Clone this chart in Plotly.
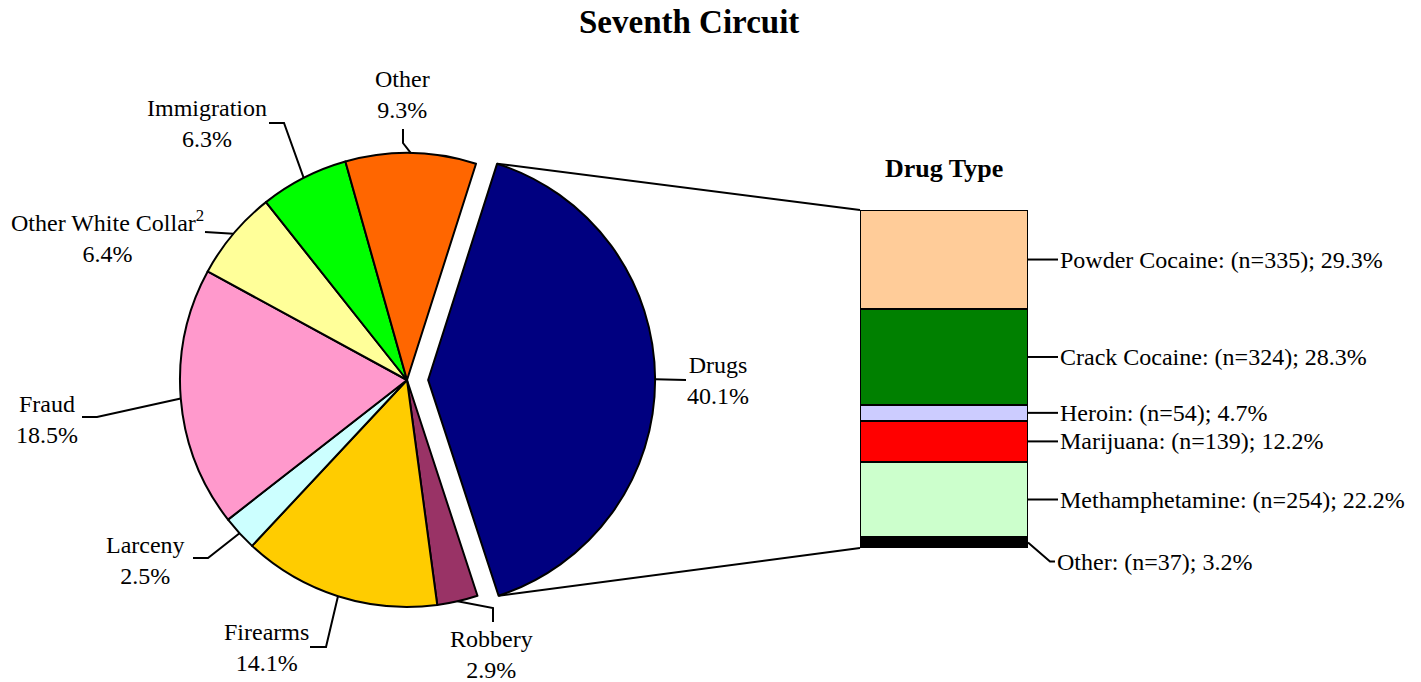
import math
import plotly.graph_objects as go

# ---------------- data ----------------
title_text = "Seventh Circuit"

offense_names = ["Drugs", "Robbery", "Firearms", "Larceny", "Fraud",
                 "Other White Collar", "Immigration", "Other"]
offense_display = ["Drugs", "Robbery", "Firearms", "Larceny", "Fraud",
                   "Other White Collar<sup>2</sup>", "Immigration", "Other"]
offense_pct = [40.1, 2.9, 14.1, 2.5, 18.5, 6.4, 6.3, 9.3]
offense_colors = ["#000080", "#993366", "#FFCC00", "#CCFFFF", "#FF99CC",
                  "#FFFF99", "#00FF00", "#FF6600"]

drug_title = "Drug Type"
drug_types = ["Powder Cocaine", "Crack Cocaine", "Heroin", "Marijuana",
              "Methamphetamine", "Other"]
drug_counts = [335, 324, 54, 139, 254, 37]
drug_pct = [29.3, 28.3, 4.7, 12.2, 22.2, 3.2]
drug_colors = ["#FFCC99", "#008000", "#CCCCFF", "#FF0000", "#CCFFCC", "#000000"]

# ---------------- layout constants (pixels) ----------------
W, H = 1421, 682
FONT = "Liberation Serif, Times New Roman, serif"
PIE_CX, PIE_CY, PIE_R = 407, 380, 227
PULL = 0.093
ROTATION = 17.7
BAR_X0, BAR_X1, BAR_Y0, BAR_Y1 = 860, 1028, 210, 548

# label anchor (text centre), elbow point, line end near label
pie_label_pos = [(718, 381), (491, 654), (266, 647), (145, 560),
                 (47, 419), (107, 236), (207, 123), (402, 95)]
pie_line_end = [(686, 380), (493, 622), (310, 647), (193, 558),
                (82, 417), (205, 232), (269, 123), (403, 129)]
pie_line_elbow = [None, (493, 608), (326, 647), (208, 558),
                  (97, 417), None, (284, 123), (403, 143)]


def px(x):
    return x / W


def py(y):
    return 1 - y / H


fig = go.Figure()

# ---------------- pie ----------------
box = 2 * PIE_R * (1 + PULL)
pulls = [PULL] + [0] * (len(offense_pct) - 1)
fig.add_trace(go.Pie(
    values=offense_pct, labels=offense_names, sort=False,
    direction="clockwise", rotation=ROTATION, pull=pulls,
    marker=dict(colors=offense_colors, line=dict(color="black", width=2)),
    textinfo="none", hoverinfo="label+value", showlegend=False,
    domain=dict(x=[px(PIE_CX - box / 2), px(PIE_CX + box / 2)],
                y=[py(PIE_CY + box / 2), py(PIE_CY - box / 2)]),
))

total = sum(offense_pct)
shapes = []
annotations = []
cum = 0.0
slice_geo = []
for i, v in enumerate(offense_pct):
    a0 = math.radians(ROTATION + 360 * cum / total)
    cum += v
    a1 = math.radians(ROTATION + 360 * cum / total)
    am = (a0 + a1) / 2
    ox = pulls[i] * PIE_R * math.sin(am)
    oy = -pulls[i] * PIE_R * math.cos(am)
    cx, cy = PIE_CX + ox, PIE_CY + oy
    slice_geo.append((a0, a1, cx, cy))
    edge = (cx + PIE_R * math.sin(am), cy - PIE_R * math.cos(am))
    pts = [edge]
    if pie_line_elbow[i] is not None:
        pts.append(pie_line_elbow[i])
    pts.append(pie_line_end[i])
    path = "M " + " L ".join(f"{px(x):.5f},{py(y):.5f}" for x, y in pts)
    shapes.append(dict(type="path", xref="paper", yref="paper", path=path,
                       line=dict(color="black", width=2)))
    lx, ly = pie_label_pos[i]
    annotations.append(dict(
        x=px(lx), y=py(ly), xref="paper", yref="paper",
        text=f"{offense_display[i]}<br>{v}%", showarrow=False,
        xanchor="center", yanchor="middle", align="center",
        font=dict(family=FONT, size=24, color="black")))

# ---------------- stacked bar ----------------
dtotal = sum(drug_counts)
for i in reversed(range(len(drug_types))):
    fig.add_trace(go.Bar(
        x=[0], y=[drug_counts[i]], width=1, name=drug_types[i],
        marker=dict(color=drug_colors[i], line=dict(color="black", width=2)),
        xaxis="x", yaxis="y", showlegend=False, hoverinfo="name+y"))

fig.update_layout(
    barmode="stack",
    xaxis=dict(domain=[px(BAR_X0), px(BAR_X1)], range=[-0.5, 0.5],
               visible=False, fixedrange=True),
    yaxis=dict(domain=[py(BAR_Y1), py(BAR_Y0)], range=[0, dtotal],
               visible=False, fixedrange=True),
)

# connectors from pulled drug slice to bar
a0, a1, dcx, dcy = slice_geo[0]
p_top = (dcx + PIE_R * math.sin(a0), dcy - PIE_R * math.cos(a0))
p_bot = (dcx + PIE_R * math.sin(a1), dcy - PIE_R * math.cos(a1))
for (x0, y0), (x1, y1) in [(p_top, (BAR_X0, BAR_Y0)), (p_bot, (BAR_X0, BAR_Y1))]:
    shapes.append(dict(type="line", xref="paper", yref="paper",
                       x0=px(x0), y0=py(y0), x1=px(x1), y1=py(y1),
                       line=dict(color="black", width=2)))

# bar labels
label_drop = [0, 0, 0, 0, 0, 19]
scale = (BAR_Y1 - BAR_Y0) / dtotal
top_cum = 0
for i, name in enumerate(drug_types):
    mid_v = top_cum + drug_counts[i] / 2
    top_cum += drug_counts[i]
    ymid = BAR_Y0 + mid_v * scale
    if label_drop[i]:
        pts = [(BAR_X1, ymid), (BAR_X1 + 22, ymid + label_drop[i]),
               (BAR_X1 + 27, ymid + label_drop[i])]
        tx = BAR_X1 + 27
    else:
        pts = [(BAR_X1, ymid), (BAR_X1 + 30, ymid)]
        tx = BAR_X1 + 30
    path = "M " + " L ".join(f"{px(x):.5f},{py(y):.5f}" for x, y in pts)
    shapes.append(dict(type="path", xref="paper", yref="paper", path=path,
                       line=dict(color="black", width=2)))
    annotations.append(dict(
        x=px(tx), y=py(pts[-1][1]), xref="paper", yref="paper",
        text=f"{name}: (n={drug_counts[i]}); {drug_pct[i]}%", showarrow=False,
        xanchor="left", yanchor="middle",
        font=dict(family=FONT, size=24, color="black")))

# titles
annotations.append(dict(x=px(689), y=py(22), xref="paper", yref="paper",
                        text=f"<b>{title_text}</b>", showarrow=False,
                        xanchor="center", yanchor="middle",
                        font=dict(family=FONT, size=33, color="black")))
annotations.append(dict(x=px((BAR_X0 + BAR_X1) / 2), y=py(168), xref="paper",
                        yref="paper", text=f"<b>{drug_title}</b>",
                        showarrow=False, xanchor="center", yanchor="middle",
                        font=dict(family=FONT, size=26, color="black")))

fig.update_layout(
    width=W, height=H, margin=dict(l=0, r=0, t=0, b=0),
    paper_bgcolor="white", plot_bgcolor="white",
    shapes=shapes, annotations=annotations,
    font=dict(family=FONT, color="black"),
)

fig.write_html("out.html", config={"displayModeBar": False},
               post_script="document.body.style.margin='0';")
